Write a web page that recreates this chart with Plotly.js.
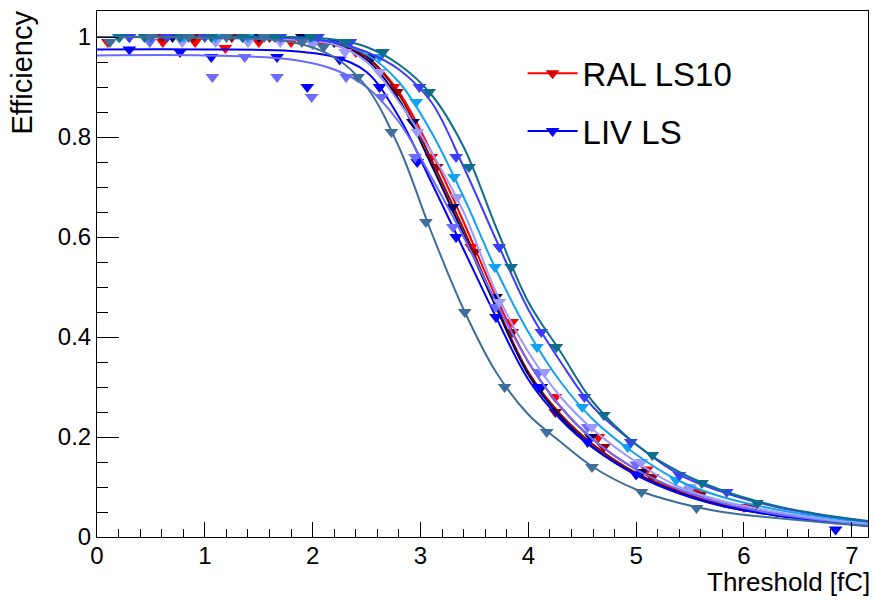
<!DOCTYPE html>
<html>
<head>
<meta charset="utf-8">
<script src="https://cdn.plot.ly/plotly-3.0.1.min.js"></script>
<style>html,body{margin:0;padding:0;background:#fff;}#chart{width:874px;height:600px;}</style>
</head>
<body>
<div id="chart"></div>
<script>
// Threshold grid for the fitted curves (fC)
const curveX = [0, 1, 1.8, 2.2, 2.5, 2.8, 3.1, 3.4, 3.7, 4.0, 4.3, 4.6, 5.0, 5.4, 5.8, 6.3, 6.8, 7.15];

// Fitted efficiency curves
const redCurve      = [1.0,1.0,0.997,0.985,0.96,0.89,0.77,0.63,0.48,0.35,0.26,0.195,0.135,0.093,0.066,0.046,0.031,0.024];
const darkRedCurve  = [1.0,1.0,0.998,0.988,0.96,0.885,0.755,0.615,0.465,0.33,0.245,0.185,0.128,0.09,0.064,0.044,0.03,0.023];
const navyCurve     = [1.0,1.0,0.998,0.985,0.955,0.875,0.745,0.605,0.46,0.325,0.24,0.18,0.125,0.088,0.062,0.043,0.03,0.022];
const blueCurve     = [0.975,0.975,0.972,0.96,0.93,0.84,0.71,0.575,0.44,0.315,0.235,0.178,0.124,0.087,0.062,0.043,0.03,0.022];
const slateCurve    = [0.963,0.963,0.955,0.935,0.90,0.83,0.72,0.60,0.47,0.35,0.26,0.195,0.135,0.095,0.068,0.046,0.032,0.024];
const lavenderCurve = [1.0,1.0,0.995,0.985,0.95,0.87,0.77,0.65,0.49,0.37,0.28,0.215,0.15,0.10,0.072,0.05,0.034,0.026];
const skyCurve      = [1.0,1.0,0.998,0.99,0.965,0.91,0.81,0.68,0.535,0.41,0.31,0.235,0.165,0.112,0.08,0.055,0.038,0.03];
const royalCurve    = [1.0,1.0,0.998,0.99,0.97,0.935,0.87,0.74,0.595,0.455,0.35,0.26,0.185,0.125,0.09,0.06,0.041,0.031];
const tealCurve     = [1.0,1.0,1.0,0.995,0.98,0.945,0.885,0.78,0.62,0.47,0.37,0.27,0.185,0.13,0.093,0.062,0.042,0.032];
const steelCurve    = [1.0,0.998,0.99,0.96,0.90,0.78,0.61,0.455,0.33,0.245,0.19,0.14,0.095,0.068,0.05,0.038,0.028,0.022];

// Measured points (threshold, efficiency)
const redX      = [0.1,0.61,0.91,1.19,1.5,1.8,2.1,2.4,2.75,3.10,3.47,3.85,4.25,4.65,5.1,5.55,6.0];
const redY      = [0.99,0.99,0.99,0.978,0.99,0.99,0.985,0.97,0.9,0.76,0.58,0.43,0.28,0.2,0.135,0.09,0.06];
const darkRedX  = [0.6,0.89,1.25,1.6,1.95,2.3,2.78,3.15,3.5,3.85,4.25,4.7,5.15,5.6,6.1];
const darkRedY  = [1.0,1.0,1.0,1.0,1.0,0.99,0.89,0.74,0.57,0.41,0.25,0.18,0.12,0.085,0.06];
const navyX     = [0.3,0.7,1.1,1.5,1.9,2.2,2.55,2.93,3.3,3.70,4.12,4.58,5.05];
const navyY     = [1.0,1.0,1.0,1.0,1.0,0.99,0.96,0.83,0.66,0.48,0.30,0.2,0.13];
const blueX     = [0.3,0.77,1.06,1.67,1.95,2.25,2.62,2.97,3.33,3.7,4.1,4.55,5.0,6.85];
const blueY     = [0.975,0.97,0.96,0.96,0.90,0.955,0.90,0.75,0.60,0.44,0.30,0.19,0.125,0.015];
const slateX    = [0.49,1.07,1.37,1.67,1.99,2.31,2.64,2.95,3.3,3.7,4.1,4.55,5.0,5.5];
const slateY    = [0.99,0.92,0.96,0.92,0.88,0.92,0.88,0.76,0.62,0.46,0.33,0.22,0.145,0.095];
const lavenderX = [0.79,1.1,1.4,1.7,2.0,2.3,2.62,2.97,3.34,3.73,4.15,4.59,5.05,5.5];
const lavenderY = [0.99,0.99,0.99,0.99,0.985,0.97,0.93,0.81,0.68,0.47,0.33,0.22,0.15,0.1];
const skyX      = [0.2,0.5,0.8,1.1,1.4,1.7,2.0,2.3,2.62,2.96,3.31,3.69,4.08,4.50,4.92,5.37];
const skyY      = [1.0,1.0,1.0,1.0,1.0,1.0,1.0,0.99,0.96,0.87,0.72,0.54,0.38,0.26,0.18,0.114];
const royalX    = [0.3,0.65,1.0,1.35,1.7,2.05,2.35,2.65,2.99,3.33,3.73,4.12,4.52,4.95,5.40,5.84];
const royalY    = [1.0,1.0,1.0,1.0,1.0,1.0,0.99,0.97,0.90,0.76,0.58,0.41,0.28,0.19,0.124,0.09];
const tealX     = [0.21,0.44,0.77,1.06,1.35,1.65,1.98,2.3,2.65,3.08,3.45,3.84,4.26,4.70,5.15,5.61,6.12];
const tealY     = [1.0,1.0,1.0,1.0,1.0,1.0,1.0,0.99,0.97,0.89,0.74,0.54,0.38,0.244,0.164,0.108,0.068];
const steelX    = [0.12,0.5,0.85,1.2,1.55,1.9,2.1,2.42,2.73,3.05,3.41,3.78,4.17,4.59,5.05,5.56];
const steelY    = [0.99,1.0,1.0,1.0,1.0,0.99,0.98,0.92,0.81,0.63,0.45,0.30,0.21,0.14,0.09,0.058];

const legendNames = ["RAL LS10", "LIV LS"];
const xTitle = "Threshold [fC]";
const yTitle = "Efficiency";

const series = [
  {c: redCurve,      mx: redX,      my: redY,      col: "#ff0000"},
  {c: darkRedCurve,  mx: darkRedX,  my: darkRedY,  col: "#990000"},
  {c: navyCurve,     mx: navyX,     my: navyY,     col: "#000066"},
  {c: blueCurve,     mx: blueX,     my: blueY,     col: "#0000ff"},
  {c: slateCurve,    mx: slateX,    my: slateY,    col: "#6b6bff"},
  {c: lavenderCurve, mx: lavenderX, my: lavenderY, col: "#9a9aff"},
  {c: skyCurve,      mx: skyX,      my: skyY,      col: "#12a2f2"},
  {c: royalCurve,    mx: royalX,    my: royalY,    col: "#3d3dff"},
  {c: tealCurve,     mx: tealX,     my: tealY,     col: "#0f6d8e"},
  {c: steelCurve,    mx: steelX,    my: steelY,    col: "#3e6e9b"}
];

const traces = [];
series.forEach(s => {
  traces.push({x: curveX, y: s.c, type: "scatter", mode: "lines",
    line: {color: s.col, width: 2, shape: "spline", smoothing: 1},
    showlegend: false, hoverinfo: "skip"});
  traces.push({x: s.mx, y: s.my, type: "scatter", mode: "markers",
    marker: {symbol: "triangle-down", size: 12, color: s.col},
    showlegend: false});
});
// legend entries
traces.push({x: [null], y: [null], type: "scatter", mode: "lines+markers", name: legendNames[0],
  line: {color: "#ff0000", width: 2}, marker: {symbol: "triangle-down", size: 12, color: "#dd0000"}, legendgroup: "a"});
traces.push({x: [null], y: [null], type: "scatter", mode: "lines+markers", name: legendNames[1],
  line: {color: "#0000ff", width: 2}, marker: {symbol: "triangle-down", size: 12, color: "#0000ff"}, legendgroup: "b"});

const axisFont = {family: "Liberation Sans, Arial, sans-serif", size: 24, color: "#000"};

const layout = {
  width: 874, height: 600,
  margin: {l: 97, r: 6, t: 11, b: 63},
  paper_bgcolor: "#fff", plot_bgcolor: "#fff",
  showlegend: true,
  legend: {x: 0.552, y: 0.935, xanchor: "left", yanchor: "top", bgcolor: "rgba(0,0,0,0)",
    font: {family: "Liberation Sans, Arial, sans-serif", size: 33, color: "#000"},
    tracegroupgap: 12, itemwidth: 50},
  xaxis: {range: [0, 7.15], dtick: 1, tick0: 0, ticks: "inside", ticklen: 15, tickwidth: 1, tickcolor: "#000",
    minor: {dtick: 0.2, ticks: "inside", ticklen: 8, tickcolor: "#000", tickwidth: 1},
    showgrid: false, zeroline: false, showline: true, linecolor: "#000", linewidth: 1, mirror: true,
    tickfont: axisFont, ticklabelstandoff: -3},
  yaxis: {range: [0, 1.052], dtick: 0.2, tick0: 0, ticks: "inside", ticklen: 22, tickwidth: 1, tickcolor: "#000",
    minor: {dtick: 0.05, ticks: "inside", ticklen: 11, tickcolor: "#000", tickwidth: 1},
    showgrid: false, zeroline: false, showline: true, linecolor: "#000", linewidth: 1, mirror: true,
    tickfont: axisFont, tickformat: "~g"},
  annotations: [
    {text: xTitle, xref: "paper", yref: "paper", x: 1.004, y: -0.116, xanchor: "right", yanchor: "bottom",
      showarrow: false, borderpad: 0, font: {family: "Liberation Sans, Arial, sans-serif", size: 26, color: "#000"}},
    {text: yTitle, xref: "paper", yref: "paper", x: -0.097, y: 1.005, xanchor: "center", yanchor: "top",
      textangle: -90, showarrow: false, font: {family: "Liberation Sans, Arial, sans-serif", size: 29, color: "#000"}}
  ]
};

Plotly.newPlot("chart", traces, layout, {staticPlot: true, displayModeBar: false});
</script>
</body>
</html>
